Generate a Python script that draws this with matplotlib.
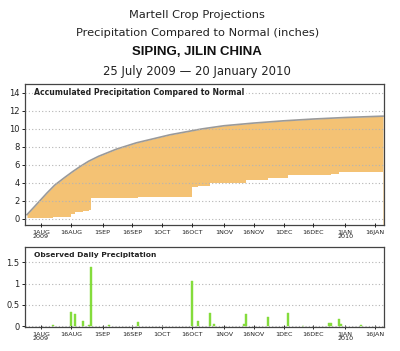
import matplotlib
matplotlib.use("Agg")
import matplotlib.pyplot as plt
import matplotlib.transforms as mtransforms
import numpy as np
from datetime import datetime as dt

# ---------------- data ----------------
normal_dates = ["2009-07-25", "2009-07-29", "2009-08-04", "2009-08-08", "2009-08-13",
                "2009-08-17", "2009-08-21", "2009-08-25", "2009-08-30", "2009-09-08",
                "2009-09-18", "2009-10-05", "2009-10-21", "2009-11-01", "2009-11-16",
                "2009-12-01", "2009-12-16", "2010-01-01", "2010-01-20"]
normal_accum = [0.45, 1.4, 2.85, 3.75, 4.6, 5.25, 5.85, 6.4, 6.95, 7.75,
                8.45, 9.35, 10.0, 10.35, 10.65, 10.9, 11.1, 11.27, 11.42]

rain_dates = ["2009-08-07", "2009-08-16", "2009-08-18", "2009-08-22", "2009-08-25",
              "2009-08-26", "2009-09-04", "2009-09-19", "2009-10-16", "2009-10-19",
              "2009-10-25", "2009-10-27", "2009-11-11", "2009-11-12", "2009-11-23",
              "2009-12-03", "2009-12-11", "2009-12-24", "2009-12-25", "2009-12-29",
              "2009-12-30", "2010-01-09"]
rain_daily = [0.02, 0.34, 0.28, 0.12, 0.03, 1.40, 0.02, 0.10, 1.07, 0.13,
              0.30, 0.05, 0.04, 0.28, 0.22, 0.30, 0.01, 0.08, 0.08, 0.17,
              0.05, 0.02]
obs_start_value = 0.13
period_start = "2009-07-25"
period_end = "2010-01-20"

tick_dates = ["2009-08-01", "2009-08-16", "2009-09-01", "2009-09-16", "2009-10-01",
              "2009-10-16", "2009-11-01", "2009-11-16", "2009-12-01", "2009-12-16",
              "2010-01-01", "2010-01-16"]
tick_labels = ["1AUG\n2009", "16AUG", "1SEP", "16SEP", "1OCT", "16OCT",
               "1NOV", "16NOV", "1DEC", "16DEC", "1JAN\n2010", "16JAN"]

titles = ["Martell Crop Projections",
          "Precipitation Compared to Normal (inches)",
          "SIPING, JILIN CHINA",
          "25 July 2009 \u2014 20 January 2010"]

# ---------------- helpers ----------------
def d(s):
    return dt.strptime(s, "%Y-%m-%d")

nd = [d(s) for s in normal_dates]
rd = [d(s) for s in rain_dates]
td = [d(s) for s in tick_dates]
obs_dates = [d(period_start)] + rd + [d(period_end)]
cum = obs_start_value + np.cumsum(rain_daily)
obs_vals = [obs_start_value] + list(cum) + [cum[-1]]

xlim = (dt(2009, 7, 24, 0), dt(2010, 1, 20, 12))

ORANGE = "#f4c274"
GREEN = "#84dc3c"
GRID = "#b4b4b4"

fig = plt.figure(figsize=(4.0, 3.51), dpi=100)
ax1 = fig.add_axes([0.0625, 0.359, 0.8975, 0.4017])
ax2 = fig.add_axes([0.0625, 0.0684, 0.8975, 0.228])

# ---- top panel ----
ax1.fill_between(nd, normal_accum, -1, color=ORANGE, lw=0, zorder=1)
ax1.fill_between(obs_dates, obs_vals, -1, step="post", color="white", lw=0, zorder=1.2)
ax1.plot(nd, normal_accum, color="#9a9a9a", lw=1.2, zorder=1.5)
ax1.set_xlim(*xlim)
ax1.set_ylim(-0.7, 15.0)
ax1.set_yticks(range(0, 15, 2))
ax1.yaxis.grid(True, linestyle=(0, (1, 2)), color=GRID, lw=0.8)
ax1.set_axisbelow(False)

tr1 = mtransforms.blended_transform_factory(ax1.transAxes, ax1.transData)
ax1.text(0.026, 14, "Accumulated Precipitation Compared to Normal", transform=tr1,
         fontsize=5.6, fontweight="bold", color="#222222", va="center", ha="left",
         bbox=dict(facecolor="white", edgecolor="none", pad=1.0), zorder=5)

# ---- bottom panel ----
ax2.bar(rd, rain_daily, width=1.0, color=GREEN, edgecolor=GREEN, lw=0.3, zorder=3)
ax2.set_xlim(*xlim)
ax2.set_ylim(-0.02, 1.86)
ax2.set_yticks([0, 0.5, 1, 1.5])
ax2.set_yticklabels(["0", "0.5", "1", "1.5"])
ax2.yaxis.grid(True, linestyle=(0, (1, 2)), color=GRID, lw=0.8)
ax2.set_axisbelow(True)
tr2 = mtransforms.blended_transform_factory(ax2.transAxes, ax2.transData)
ax2.text(0.026, 1.67, "Observed Daily Precipitation", transform=tr2,
         fontsize=5.4, fontweight="bold", color="#222222", va="center", ha="left")

for ax in (ax1, ax2):
    ax.set_xticks(td)
    ax.set_xticklabels(tick_labels, fontsize=4.6, linespacing=0.85)
    ax.tick_params(axis="x", length=2.5, width=0.7, pad=2.0, direction="inout", colors="#222222")
    ax.tick_params(axis="y", length=2.5, width=0.7, pad=1.5, labelsize=6, colors="#222222")
    for s in ax.spines.values():
        s.set_color("#444444")
        s.set_linewidth(0.9)

# ---- titles ----
fig.text(0.493, 1 - 15 / 351, titles[0], ha="center", va="center", fontsize=8.2, color="#222222")
fig.text(0.493, 1 - 33 / 351, titles[1], ha="center", va="center", fontsize=8.2, color="#222222")
fig.text(0.493, 1 - 52 / 351, titles[2], ha="center", va="center", fontsize=9.5,
         fontweight="bold", family="Liberation Sans", color="#111111")
fig.text(0.493, 1 - 71 / 351, titles[3], ha="center", va="center", fontsize=8.4, color="#222222")

fig.savefig("out.png", dpi=100, facecolor="white")
